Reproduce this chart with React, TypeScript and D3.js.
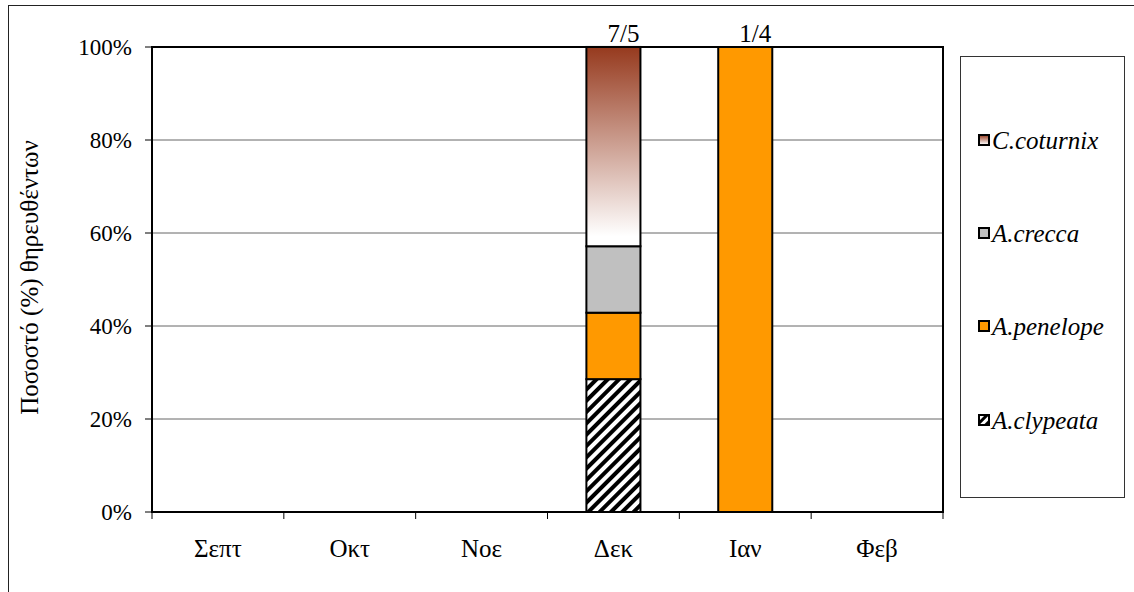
import React from "react";
import * as d3 from "d3";

const months = ["Σεπτ", "Οκτ", "Νοε", "Δεκ", "Ιαν", "Φεβ"];
const clypeata = [0, 0, 0, 28.57, 0, 0];
const penelope = [0, 0, 0, 14.29, 100, 0];
const crecca = [0, 0, 0, 14.29, 0, 0];
const coturnix = [0, 0, 0, 42.86, 0, 0];
const topLabels = ["", "", "", "7/5", "1/4", ""];
const yTicks = [0, 20, 40, 60, 80, 100];
const seriesNames = ["A.clypeata", "A.penelope", "A.crecca", "C.coturnix"];

const W = 1134;
const H = 592;
const FONT = "'Liberation Serif', 'DejaVu Serif', serif";

export default function App() {
  const left = 152, right = 943, top = 47, bottom = 512;
  const n = months.length;
  const pi = 0.59;
  const x = d3.scaleBand<string>().domain(months).range([left, right]).paddingInner(pi).paddingOuter(pi / 2);
  const step = (right - left) / n;
  const y = d3.scaleLinear().domain([0, 100]).range([bottom, top]);

  const series = [clypeata, penelope, crecca, coturnix];
  const fills = ["url(#hatch)", "#FF9900", "#C0C0C0", "url(#grad)"];
  const stack = months.map((m, i) => {
    let acc = 0;
    return series.map((s, k) => {
      const y0 = acc;
      acc += s[i];
      return { m, k, y0, y1: acc, v: s[i] };
    });
  });

  const legendY = [140, 233, 326, 420];
  const legendItems = [3, 2, 1, 0];

  return (
    <svg width={W} height={H} style={{ position: "absolute", left: 0, top: 0, fontFamily: FONT }}>
      <defs>
        <pattern id="hatch" patternUnits="userSpaceOnUse" width="8" height="8" patternTransform="rotate(45)">
          <rect width="8" height="8" fill="#fff" />
          <rect width="4" height="8" fill="#000" />
        </pattern>
        <pattern id="hatchSmall" patternUnits="userSpaceOnUse" width="6" height="6" patternTransform="rotate(45)">
          <rect width="6" height="6" fill="#fff" />
          <rect width="3" height="6" fill="#000" />
        </pattern>
        <linearGradient id="grad" x1="0" y1="0" x2="0" y2="1">
          <stop offset="0%" stopColor="#963A1E" />
          <stop offset="95%" stopColor="#FFFFFF" />
        </linearGradient>
      </defs>
      <rect x={0} y={0} width={W} height={H} fill="#fff" />
      <rect x={8.5} y={5.5} width={W + 10} height={H + 10} fill="none" stroke="#222" strokeWidth={1} />

      {/* gridlines */}
      {yTicks.filter((t) => t > 0 && t < 100).map((t) => (
        <line key={t} x1={left} x2={right} y1={y(t)} y2={y(t)} stroke="#666" strokeWidth={1} />
      ))}

      {/* bars */}
      {stack.map((col, i) =>
        col.filter((d) => d.v > 0).map((d) => (
          <rect
            key={`${i}-${d.k}`}
            x={x(d.m)}
            y={y(d.y1)}
            width={x.bandwidth()}
            height={y(d.y0) - y(d.y1)}
            fill={fills[d.k]}
            stroke="#000"
            strokeWidth={2}
          />
        ))
      )}

      {/* plot frame */}
      <rect x={left} y={top} width={right - left} height={bottom - top} fill="none" stroke="#000" strokeWidth={2} />

      {/* y ticks */}
      {yTicks.map((t) => (
        <g key={t}>
          <line x1={left - 7} x2={left} y1={y(t)} y2={y(t)} stroke="#000" strokeWidth={1} />
          <text x={left - 20} y={y(t)} dy="0.35em" textAnchor="end" fontSize={23}>
            {t}%
          </text>
        </g>
      ))}

      {/* x ticks */}
      {d3.range(n + 1).map((i) => (
        <line key={i} x1={left + i * step} x2={left + i * step} y1={bottom} y2={bottom + 7} stroke="#000" strokeWidth={1} />
      ))}
      {months.map((m) => (
        <text key={m} x={(x(m) as number) + x.bandwidth() / 2} y={557} textAnchor="middle" fontSize={25}>
          {m}
        </text>
      ))}

      {/* top labels */}
      {months.map((m, i) =>
        topLabels[i] ? (
          <text key={m} x={(x(m) as number) + x.bandwidth() / 2 + 10} y={42} textAnchor="middle" fontSize={25}>
            {topLabels[i]}
          </text>
        ) : null
      )}

      {/* y title */}
      <text transform={`translate(38,${(top + bottom) / 2 - 2}) rotate(-90)`} textAnchor="middle" fontSize={25}>
        Ποσοστό (%) θηρευθέντων
      </text>

      {/* legend */}
      <rect x={960.5} y={56.5} width={164} height={441} fill="#fff" stroke="#333" strokeWidth={1} />
      {legendItems.map((k, j) => (
        <g key={k}>
          <rect x={979} y={legendY[j] - 5} width={10} height={10} fill={k === 0 ? "url(#hatchSmall)" : fills[k]} stroke="#000" strokeWidth={2} />
          <text x={992} y={legendY[j]} dy="0.35em" fontSize={25} fontStyle="italic">
            {seriesNames[k]}
          </text>
        </g>
      ))}
    </svg>
  );
}
